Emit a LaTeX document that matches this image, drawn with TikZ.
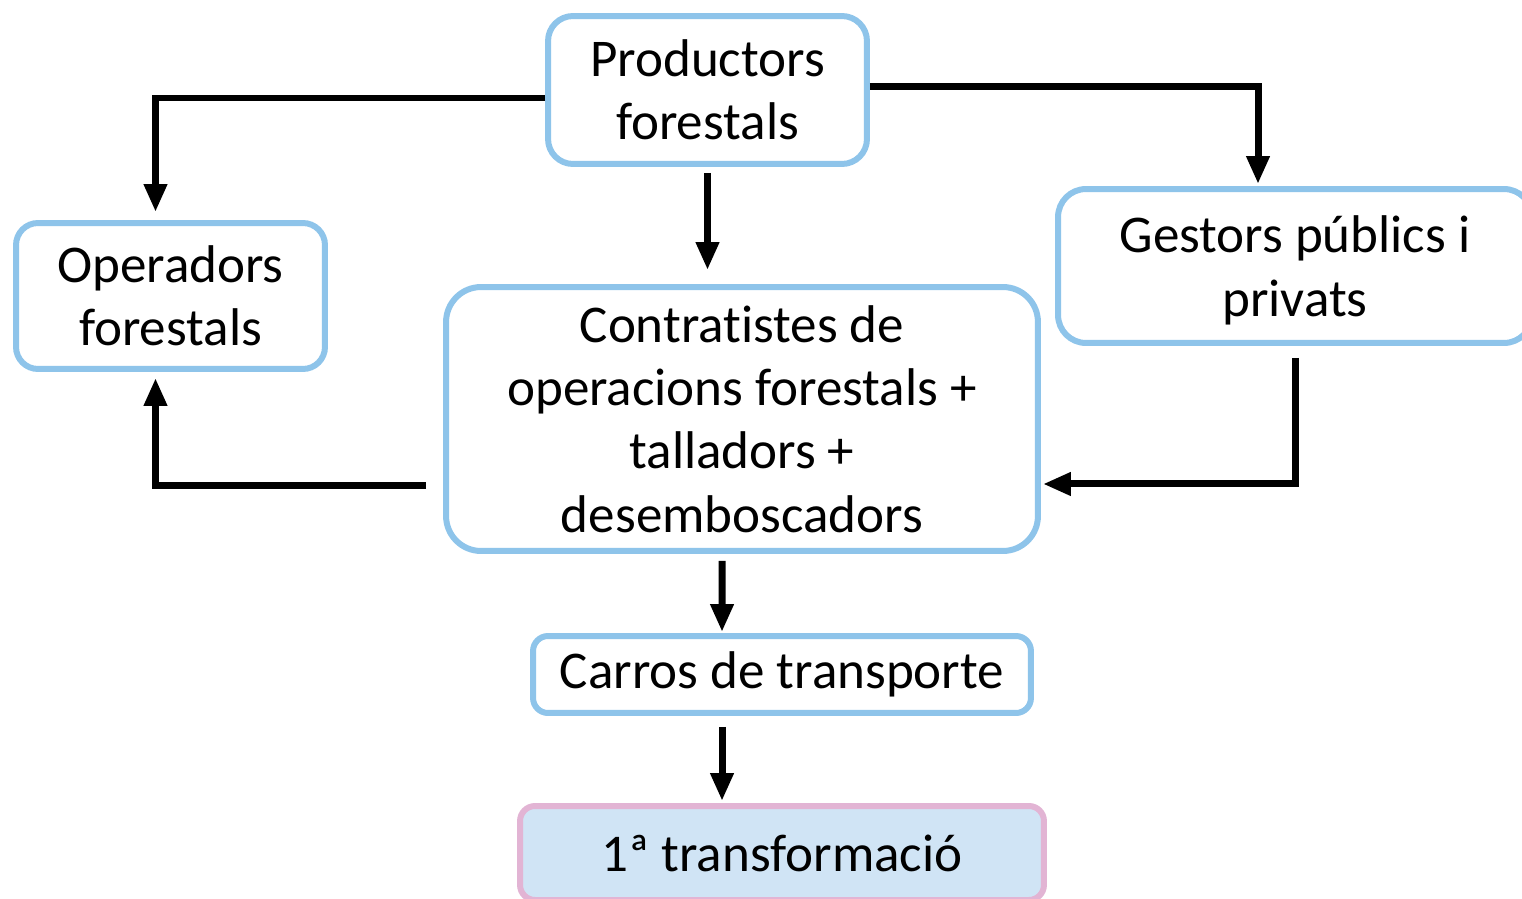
\documentclass[tikz,border=0pt]{standalone}
\usepackage{fontspec}
\setmainfont{Carlito}[Ligatures=NoCommon]
\usetikzlibrary{arrows.meta}
\definecolor{boxblue}{RGB}{142,196,234}
\definecolor{boxpink}{RGB}{226,180,212}
\definecolor{fillblue}{RGB}{208,228,245}
\tikzset{
  box/.style={draw=boxblue, line width=0.12cm, fill=white, align=center, inner sep=0pt,
    font=\fontsize{30.2pt}{36pt}\selectfont},
  conn/.style={line width=0.14cm, -{Triangle[length=0.56cm, width=0.44cm]}},
}
\begin{document}
\begin{tikzpicture}[x=0.02cm, y=-0.02cm]
\useasboundingbox (0,0) rectangle (1522,899);
\node[box, minimum width=6.38cm, minimum height=2.96cm, rounded corners=0.5cm] (prod) at (707.5,90) {Productors\\forestals};
\node[box, minimum width=6.18cm, minimum height=2.92cm, rounded corners=0.44cm] (oper) at (170.5,296) {Operadors\\forestals};
\node[box, minimum width=11.84cm, minimum height=5.28cm, rounded corners=0.7cm] (contr) at (742,419) {Contratistes de\\operacions forestals +\\talladors +\\desemboscadors};
\node[box, minimum width=9.48cm, minimum height=3.08cm, rounded corners=0.56cm, text depth=-0.1cm] (gest) at (1295,266) {Gestors públics i\\privats};
\node[box, minimum width=9.96cm, minimum height=1.54cm, rounded corners=0.3cm] (carros) at (782,674.5) {Carros de transporte};
\node[box, draw=boxpink, fill=fillblue, minimum width=10.48cm, minimum height=1.88cm, rounded corners=0.3cm] (trans) at (782,853) {1ª transformació};

\draw[conn, shorten >=0.16cm] ([yshift=-0.16cm]prod.west) -| ([xshift=-0.3cm]oper.north);
\draw[conn, shorten >=0.04cm] ([yshift=0.08cm]prod.east) -| ([xshift=-0.74cm]gest.north);
\draw[conn, shorten <=0.12cm, shorten >=0.28cm] (prod.south) -- (prod.south |- contr.north);
\draw[conn, shorten <=0.34cm, shorten >=0.12cm] ([yshift=-1.34cm]contr.west) -| ([xshift=-0.3cm]oper.south);
\draw[conn, shorten <=0.24cm, shorten >=0.04cm] (gest.south) |- ([yshift=-1.3cm]contr.east);
\draw[conn, shorten <=0.14cm, shorten >=0.02cm] ([xshift=-0.4cm]contr.south) -- ([xshift=-1.2cm]carros.north);
\draw[conn, shorten <=0.22cm, shorten >=0.04cm] ([xshift=-1.2cm]carros.south) -- ([xshift=-1.2cm]trans.north);
\end{tikzpicture}
\end{document}
